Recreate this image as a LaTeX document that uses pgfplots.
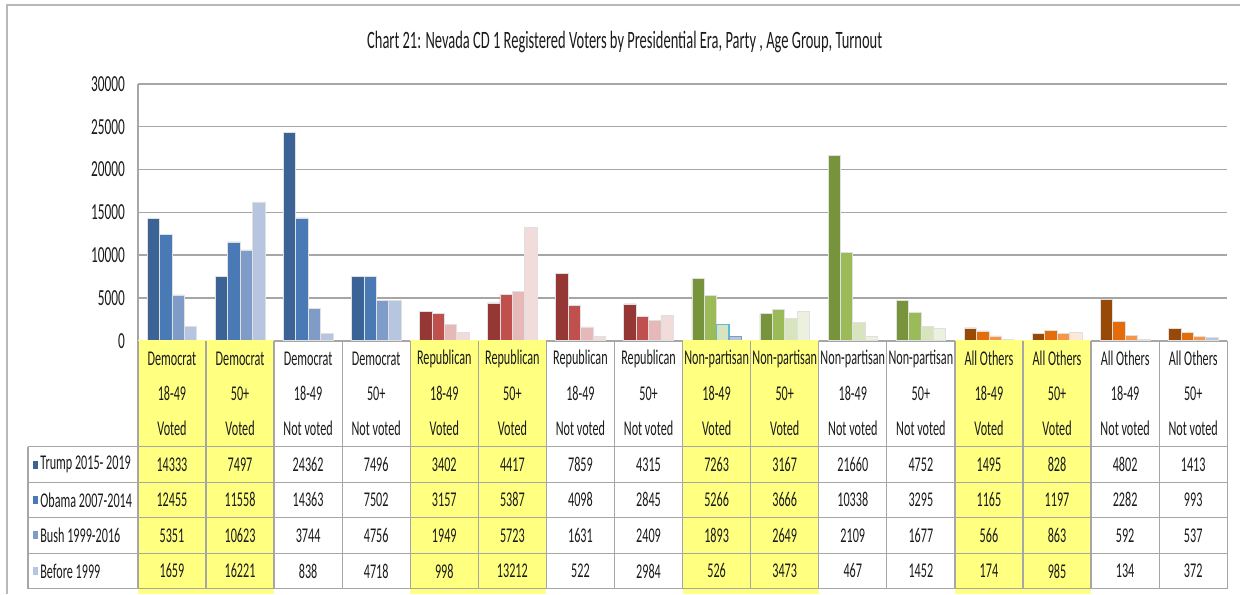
\documentclass[border=0pt]{standalone}
\usepackage{fontspec}
\setmainfont{Carlito}[FakeStretch=0.58]
\usepackage{pgfplots}
\usepackage{pgfplotstable}
\pgfplotsset{compat=1.18}

\definecolor{demA}{HTML}{3B6395}\definecolor{demB}{HTML}{4A7AB5}
\definecolor{demC}{HTML}{7F9CC8}\definecolor{demD}{HTML}{B6C5E0}
\definecolor{repA}{HTML}{953735}\definecolor{repB}{HTML}{C0504D}
\definecolor{repC}{HTML}{E6B9B8}\definecolor{repD}{HTML}{F2DCDB}
\definecolor{npA}{HTML}{77933C}\definecolor{npB}{HTML}{9BBB59}
\definecolor{npC}{HTML}{D7E4BD}\definecolor{npD}{HTML}{EBF1DE}
\definecolor{oA}{HTML}{984807}\definecolor{oB}{HTML}{E46C0A}
\definecolor{oC}{HTML}{F79646}\definecolor{oD}{HTML}{FDE9D9}
\definecolor{hl}{HTML}{FFFF80}
\definecolor{gridc}{HTML}{A6A6A6}
\definecolor{txt}{HTML}{1A1A1A}

% 16 categories: party x age x turnout
\pgfplotstableread{
x  trump obama bush  before
0  14333 12455 5351  1659
1  7497  11558 10623 16221
2  24362 14363 3744  838
3  7496  7502  4756  4718
4  3402  3157  1949  998
5  4417  5387  5723  13212
6  7859  4098  1631  522
7  4315  2845  2409  2984
8  7263  5266  1893  526
9  3167  3666  2649  3473
10 21660 10338 2109  467
11 4752  3295  1677  1452
12 1495  1165  566   174
13 828   1197  863   985
14 4802  2282  592   134
15 1413  993   537   372
}\data

\newcommand\partybars[5]{%
  \addplot[fill=#2, bar shift=-0.273, restrict x to domain=#1] table[x=x,y=trump]{\data};
  \addplot[fill=#3, bar shift=-0.091, restrict x to domain=#1] table[x=x,y=obama]{\data};
  \addplot[fill=#4, bar shift=0.091, restrict x to domain=#1] table[x=x,y=bush]{\data};
  \addplot[fill=#5, bar shift=0.273, restrict x to domain=#1] table[x=x,y=before]{\data};}

\newcommand\tabfont{\fontsize{10.5}{12}\selectfont}

\begin{document}
\begin{tikzpicture}
% px grid: 1px = 0.5pt, origin at plot-area lower left (138,341)
\begin{scope}[shift={(-69pt,170.5pt)}, x=0.5pt, y=-0.5pt]
  \useasboundingbox (0,0) rectangle (1241,594);
\end{scope}

\begin{axis}[
  at={(0,0)}, anchor=south west,
  scale only axis, width=545pt, height=128.5pt,
  ybar, bar width=0.182,
  xmin=-0.5, xmax=15.5, ymin=0, ymax=30000,
  xtick=\empty,
  ytick={0,5000,...,30000},
  scaled y ticks=false,
  yticklabel style={font=\fontsize{11.5}{12}\selectfont, text=txt,
    /pgf/number format/1000 sep={}, /pgf/number format/assume math mode=true,
    xshift=-3pt},
  major tick length=0pt,
  ymajorgrids,
  grid style={gridc, line width=0.75pt},
  axis x line*=bottom, axis y line*=left,
  axis line style={gridc, line width=0.75pt, -},
  every axis plot/.append style={draw=white!88!black, line width=0.3pt},
]
\partybars{0:3}{demA}{demB}{demC}{demD}
\partybars{4:7}{repA}{repB}{repC}{repD}
\partybars{8:11}{npA}{npB}{npC}{npD}
\partybars{12:15}{oA}{oB}{oC}{oD}
% odd bars as in the original
\addplot[fill=npC, draw=demC!70!cyan, line width=0.6pt, bar shift=0.091, restrict x to domain=8:8] table[x=x,y=bush]{\data};
\addplot[fill=demD, draw=demC, bar shift=0.273, restrict x to domain=8:8] table[x=x,y=before]{\data};
\addplot[fill=demD, bar shift=0.273, restrict x to domain=15:15] table[x=x,y=before]{\data};
\end{axis}

\begin{scope}[shift={(-69pt,170.5pt)}, x=0.5pt, y=-0.5pt]
  % outer frame
  \draw[gridc!80, line width=0.75pt] (7,594) -- (7,5) -- (1241,5);
  % title
  \node[text=txt, font=\fontsize{12.5}{14}\selectfont] at (625,42)
    {Chart 21: Nevada CD 1 Registered Voters by Presidential Era, Party , Age Group, Turnout};
  % yellow columns
  \foreach \c in {0,1,4,5,8,9,12,13}
    \fill[hl] ({138+68.125*\c},340) rectangle ({138+68.125*(\c+1)},594);
  % table grid
  \foreach \yy in {447,482.5,518,553.5,589}
    \draw[gridc, line width=0.6pt] (28,\yy) -- (1228,\yy);
  \draw[gridc, line width=0.6pt] (28,447) -- (28,589);
  \foreach \c in {0,...,16}
    \draw[gridc, line width=0.6pt] ({138+68.125*\c},341) -- ({138+68.125*\c},589);
  % header labels
  \foreach \c/\p/\a/\v in {0/Democrat/18-49/Voted, 1/Democrat/50+/Voted,
      2/Democrat/18-49/Not voted, 3/Democrat/50+/Not voted,
      4/Republican/18-49/Voted, 5/Republican/50+/Voted,
      6/Republican/18-49/Not voted, 7/Republican/50+/Not voted,
      8/Non-partisan/18-49/Voted, 9/Non-partisan/50+/Voted,
      10/Non-partisan/18-49/Not voted, 11/Non-partisan/50+/Not voted,
      12/All Others/18-49/Voted, 13/All Others/50+/Voted,
      14/All Others/18-49/Not voted, 15/All Others/50+/Not voted} {
    \node[text=txt, font=\tabfont] at ({138+68.125*(\c+0.5)},359) {\p};
    \node[text=txt, font=\tabfont] at ({138+68.125*(\c+0.5)},394) {\a};
    \node[text=txt, font=\tabfont] at ({138+68.125*(\c+0.5)},429) {\v};
  }
  % legend keys and values
  \foreach \col/\lab/\cc/\yy in {trump/Trump 2015- 2019/demA/464.8,
      obama/Obama 2007-2014/demB/500.2, bush/Bush 1999-2016/demC/535.8,
      before/Before 1999/demD/571.3} {
    \fill[\cc] (33,\yy-4) rectangle (38,\yy+4);
    \node[anchor=west, text=txt, font=\tabfont, inner sep=0pt] at (40,\yy) {\lab};
    \foreach \r in {0,...,15} {
      \pgfplotstablegetelem{\r}{\col}\of\data
      \node[text=txt, font=\tabfont] at ({138+68.125*(\r+0.5)},\yy) {\pgfplotsretval};
    }
  }
\end{scope}
\end{tikzpicture}
\end{document}
